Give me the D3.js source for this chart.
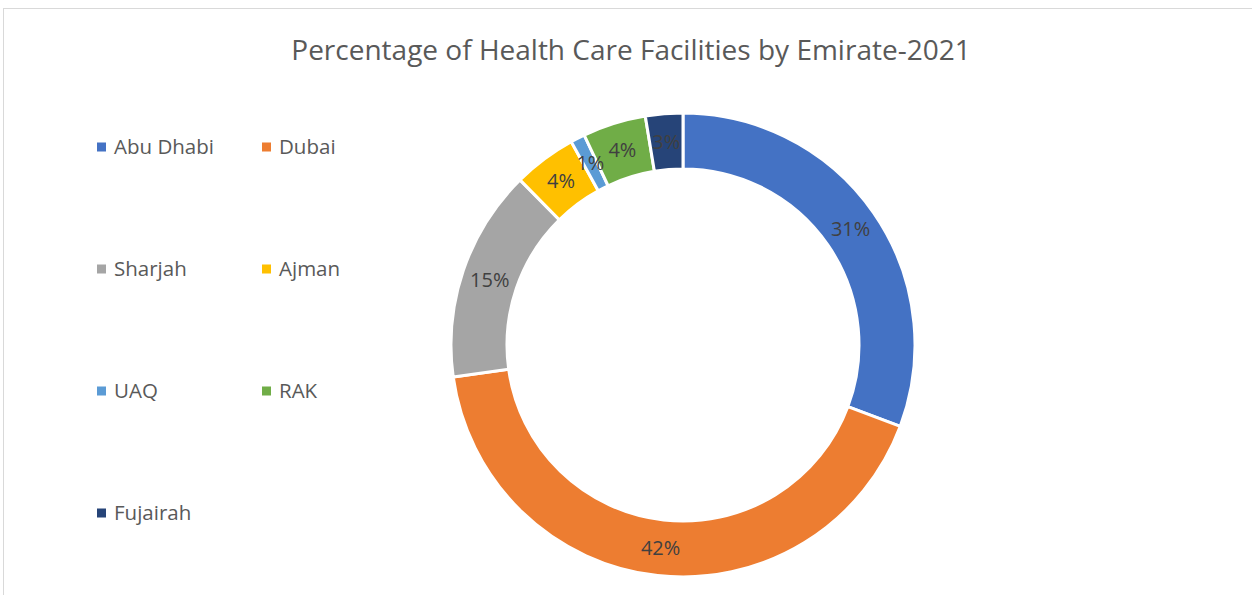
<!DOCTYPE html>
<html>
<head>
<meta charset="utf-8">
<script src="https://cdn.jsdelivr.net/npm/d3@7"></script>
<style>
  body { margin: 0; background: #fff; }
  svg text { font-family: "Open Sans", Lato, sans-serif; }
</style>
</head>
<body>
<div id="chart"></div>
<script>
// data
var emirates = ["Abu Dhabi", "Dubai", "Sharjah", "Ajman", "UAQ", "RAK", "Fujairah"];
var shares = [30.7, 42.1, 14.8, 4.4, 1.0, 4.4, 2.6];
var colours = ["#4472C4", "#ED7D31", "#A5A5A5", "#FFC000", "#5B9BD5", "#70AD47", "#264478"];
var title = "Percentage of Health Care Facilities by Emirate-2021";

var w = 1252, h = 595;
var cx = 683, cy = 345;
var outerR = 232, innerR = 176;

var svg = d3.select("#chart")
    .append("svg")
    .attr("width", w)
    .attr("height", h);

// chart area frame (runs off the right and bottom edge)
svg.append("rect")
    .attr("x", 3.5)
    .attr("y", 8.5)
    .attr("width", 1260)
    .attr("height", 600)
    .attr("fill", "white")
    .attr("stroke", "#d9d9d9")
    .attr("stroke-width", 1);

svg.append("text")
    .attr("x", 631)
    .attr("y", 60)
    .attr("text-anchor", "middle")
    .attr("font-size", 28)
    .attr("fill", "#595959")
    .text(title);

var rows = emirates.map(function(d, i) {
    return { name: d, value: shares[i], colour: colours[i] };
});

var pie = d3.pie()
    .sort(null)
    .value(function(d) { return d.value; });

var arc = d3.arc()
    .innerRadius(innerR)
    .outerRadius(outerR);

var labelArc = d3.arc()
    .innerRadius((innerR + outerR) / 2)
    .outerRadius((innerR + outerR) / 2);

var g = svg.append("g")
    .attr("transform", "translate(" + cx + "," + cy + ")");

g.selectAll("path")
    .data(pie(rows))
    .enter()
    .append("path")
    .attr("d", arc)
    .attr("fill", function(d) { return d.data.colour; })
    .attr("stroke", "white")
    .attr("stroke-width", 3);

g.selectAll("text")
    .data(pie(rows))
    .enter()
    .append("text")
    .attr("transform", function(d) { return "translate(" + labelArc.centroid(d) + ")"; })
    .attr("text-anchor", "middle")
    .attr("dy", "0.35em")
    .attr("font-size", 20)
    .attr("fill", "#404040")
    .text(function(d) { return Math.round(d.data.value) + "%"; });

// legend, two columns
var legend = svg.selectAll(".legend")
    .data(rows)
    .enter()
    .append("g")
    .attr("class", "legend")
    .attr("transform", function(d, i) {
        var col = i % 2, row = Math.floor(i / 2);
        return "translate(" + (97 + col * 165) + "," + (147 + row * 122) + ")";
    });

legend.append("rect")
    .attr("x", 0)
    .attr("y", -4.5)
    .attr("width", 9)
    .attr("height", 9)
    .attr("fill", function(d) { return d.colour; });

legend.append("text")
    .attr("x", 17)
    .attr("dy", "0.35em")
    .attr("font-size", 20.5)
    .attr("fill", "#595959")
    .text(function(d) { return d.name; });
</script>
</body>
</html>
